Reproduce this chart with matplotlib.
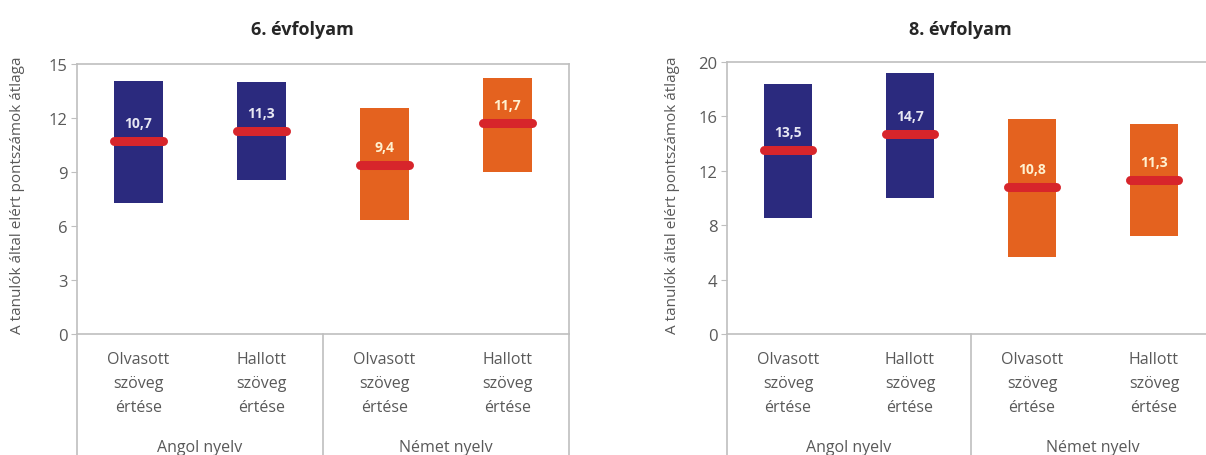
import matplotlib
matplotlib.use("Agg")
import matplotlib.pyplot as plt
import numpy as np

plt.rcParams['font.family'] = ['Open Sans', 'DejaVu Sans']

categories = ["Olvasott\nszöveg\nértése", "Hallott\nszöveg\nértése",
              "Olvasott\nszöveg\nértése", "Hallott\nszöveg\nértése"]
groups = ["Angol nyelv", "Német nyelv"]
titles = ["6. évfolyam", "8. évfolyam"]
ylabel = "A tanulók által elért pontszámok átlaga"

# grade 6
g6_low = [7.3, 8.55, 6.35, 9.0]
g6_high = [14.05, 14.0, 12.55, 14.25]
g6_mean = [10.7, 11.3, 9.4, 11.7]
g6_labels = ["10,7", "11,3", "9,4", "11,7"]
g6_ticks = [0, 3, 6, 9, 12, 15]

# grade 8
g8_low = [8.5, 10.0, 5.65, 7.2]
g8_high = [18.4, 19.2, 15.8, 15.45]
g8_mean = [13.5, 14.7, 10.8, 11.3]
g8_labels = ["13,5", "14,7", "10,8", "11,3"]
g8_ticks = [0, 4, 8, 12, 16, 20]

colors = ["#2B2A7E", "#2B2A7E", "#E4621F", "#E4621F"]
label_colors = ["#E6E6F2", "#E6E6F2", "#FFF1D0", "#FFF1D0"]
red = "#D7252B"
axis_col = "#BFBFBF"
text_col = "#595959"

W, H = 1206, 456
fig = plt.figure(figsize=(W / 100, H / 100), dpi=100)

specs = [
    dict(rect=[77 / W, 1 - 335 / H, 492 / W, 270 / H], low=g6_low, high=g6_high,
         mean=g6_mean, labels=g6_labels, ticks=g6_ticks, title=titles[0], tx=302 / W,
         ylx=18 / W),
    dict(rect=[727 / W, 1 - 335 / H, 488 / W, 272 / H], low=g8_low, high=g8_high,
         mean=g8_mean, labels=g8_labels, ticks=g8_ticks, title=titles[1], tx=960 / W,
         ylx=672 / W),
]

for s in specs:
    ax = fig.add_axes(s["rect"])
    x = np.arange(len(categories))
    low = np.array(s["low"])
    high = np.array(s["high"])
    ax.bar(x, high - low, bottom=low, width=0.4, color=colors, zorder=2)
    for xi, m, lab, lc in zip(x, s["mean"], s["labels"], label_colors):
        ax.plot([xi - 0.2, xi + 0.2], [m, m], color=red, lw=6.5,
                solid_capstyle="round", zorder=3)
        ax.annotate(lab, (xi, m), xytext=(0, 13), textcoords="offset points",
                    ha="center", va="center", color=lc, fontsize=10,
                    fontweight="bold", zorder=4)
    ax.set_xlim(-0.5, 3.5)
    ax.set_ylim(s["ticks"][0], s["ticks"][-1])
    ax.set_yticks(s["ticks"])
    ax.set_xticks(x)
    ax.set_xticklabels(categories, fontsize=11.5, color=text_col, linespacing=1.68)
    ax.tick_params(axis="x", length=0, pad=12)
    ax.tick_params(axis="y", length=4, color=axis_col, labelcolor=text_col,
                   labelsize=12, pad=3)
    for sp in ax.spines.values():
        sp.set_color(axis_col)
        sp.set_linewidth(1.2)
    # extended separators below the axis
    bottom_ax = -(1 - 335 / H) * H / (s["rect"][3] * H)
    for xv in [-0.5, 1.5, 3.5]:
        ax.plot([xv, xv], [0, bottom_ax], transform=ax.get_xaxis_transform(),
                color=axis_col, lw=1.2, clip_on=False)
    for gi, g in enumerate(groups):
        ax.text(0.5 + 2 * gi, -113 / (s["rect"][3] * H), g,
                transform=ax.get_xaxis_transform(), ha="center", va="center",
                fontsize=11.5, color=text_col)
    fig.text(s["ylx"], 1 - 195 / H, ylabel, rotation=90, ha="center", va="center",
             fontsize=11, color=text_col)
    fig.text(s["tx"], 1 - 30 / H, s["title"], ha="center", va="center",
             fontsize=13, fontweight="bold", color="#262626")

fig.savefig("out.png", dpi=100)
